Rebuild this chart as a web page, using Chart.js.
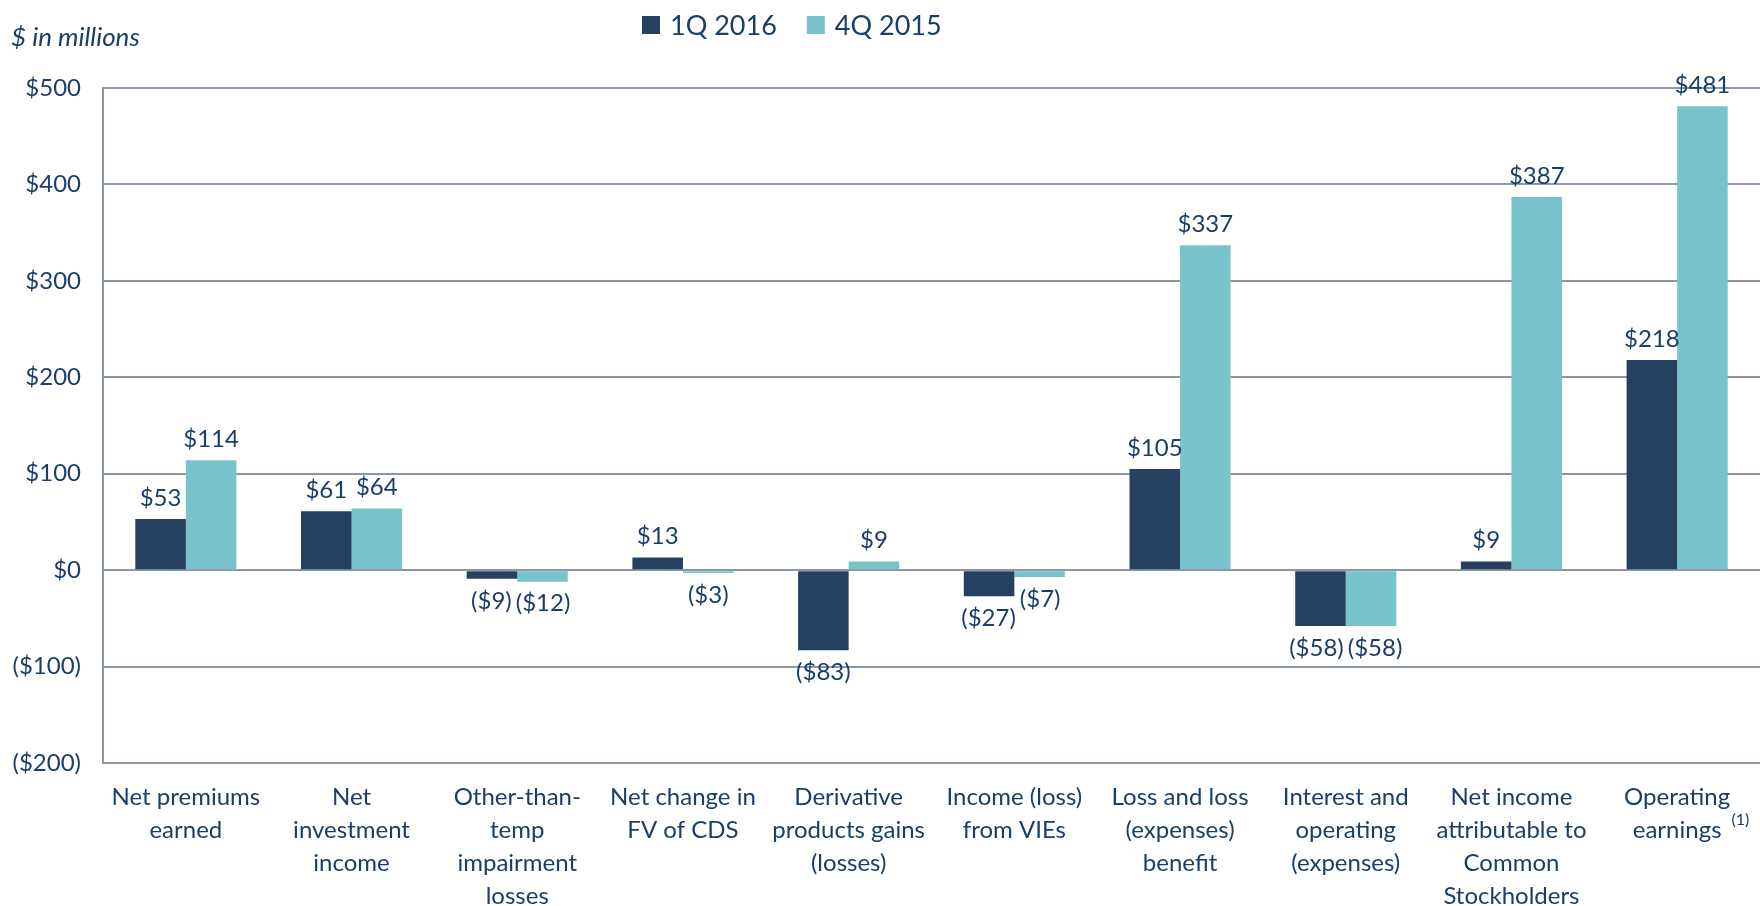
<!DOCTYPE html>
<html>
<head>
<meta charset="utf-8">
<script src="https://cdn.jsdelivr.net/npm/chart.js@4/dist/chart.umd.min.js"></script>
<style>
html,body{margin:0;padding:0;background:#ffffff;}
#wrap{width:1760px;height:906px;position:relative;}
</style>
</head>
<body>
<div id="wrap"><canvas id="c"></canvas></div>
<script>
// ---- data ----
const categories = [
  ["Net premiums","earned"],
  ["Net","investment","income"],
  ["Other-than-","temp","impairment","losses"],
  ["Net change in","FV of CDS"],
  ["Derivative","products gains","(losses)"],
  ["Income (loss)","from VIEs"],
  ["Loss and loss","(expenses)","benefit"],
  ["Interest and","operating","(expenses)"],
  ["Net income","attributable to","Common","Stockholders"],
  ["Operating","earnings"]
];
const seriesNames = ["1Q 2016", "4Q 2015"];
const series1Q2016 = [53, 61, -9, 13, -83, -27, 105, -58, 9, 218];
const series4Q2015 = [114, 64, -12, -3, 9, -7, 337, -58, 387, 481];
const yMin = -200, yMax = 500, yStep = 100;
const unitNote = "$ in millions";
const footnoteMark = "(1)";
const footnoteCategory = 9;

// ---- style ----
const TEXT = "#1a3e6b";
const DARK = "#264061";
const LIGHT = "#78c3cc";
const GRID = "#8c96a6";
const FONT = "Lato, 'Open Sans', sans-serif";

function fmt(v){ return v < 0 ? "($" + Math.abs(v) + ")" : "$" + v; }

const valueLabels = {
  id: "valueLabels",
  afterDatasetsDraw(chart){
    const ctx = chart.ctx;
    ctx.save();
    ctx.font = "24px " + FONT;
    ctx.fillStyle = TEXT;
    ctx.textAlign = "center";
    ctx.textBaseline = "middle";
    const n = chart.data.labels.length;
    for (let j = 0; j < n; j++) {
      const items = chart.data.datasets.map((ds, i) => {
        const bar = chart.getDatasetMeta(i).data[j];
        const v = ds.data[j];
        const text = fmt(v);
        return { text, v, x: bar.x, y: v >= 0 ? bar.y - 21 : bar.y + 22, w: ctx.measureText(text).width };
      });
      // keep neighbouring labels of one category from overlapping
      if (items.length === 2) {
        const a = items[0], b = items[1];
        if (Math.abs(a.y - b.y) < 26) {
          const overlap = (a.w / 2 + b.w / 2 + 4) - (b.x - a.x);
          if (overlap > 0) { a.x -= overlap / 2; b.x += overlap / 2; }
        }
      }
      items.forEach(it => ctx.fillText(it.text, it.x, it.y));
    }
    ctx.restore();
  }
};

const extras = {
  id: "extras",
  afterDraw(chart){
    const ctx = chart.ctx;
    ctx.save();
    // unit note
    ctx.font = "italic 26px " + FONT;
    ctx.fillStyle = TEXT;
    ctx.textAlign = "left";
    ctx.textBaseline = "middle";
    ctx.fillText(unitNote, 11, 38);
    // legend
    ctx.font = "27px " + FONT;
    let x = 642;
    chart.data.datasets.forEach(ds => {
      ctx.fillStyle = ds.backgroundColor;
      ctx.fillRect(x, 16, 18, 18);
      ctx.fillStyle = TEXT;
      ctx.fillText(ds.label, x + 28, 26);
      x += 28 + ctx.measureText(ds.label).width + 30;
    });
    // footnote mark on last category label
    const xs = chart.scales.x;
    ctx.font = "24px " + FONT;
    const lines = categories[footnoteCategory];
    const w = ctx.measureText(lines[lines.length - 1]).width;
    const cx = xs.getPixelForTick(footnoteCategory);
    ctx.font = "16px " + FONT;
    ctx.textAlign = "left";
    ctx.fillText(footnoteMark, cx + w / 2 + 10, xs.top + 18 + 33 * 1.5 - 11);
    ctx.restore();
  }
};

new Chart(document.getElementById("c"), {
  type: "bar",
  data: {
    labels: categories,
    datasets: [
      { label: seriesNames[0], data: series1Q2016, backgroundColor: DARK, borderWidth: 0 },
      { label: seriesNames[1], data: series4Q2015, backgroundColor: LIGHT, borderWidth: 0 }
    ]
  },
  options: {
    responsive: true,
    maintainAspectRatio: false,
    devicePixelRatio: 1,
    animation: false,
    layout: { padding: { top: 88, left: 0, right: 0, bottom: 0 } },
    categoryPercentage: 0.61,
    barPercentage: 1.0,
    plugins: {
      legend: { display: false },
      tooltip: { enabled: false }
    },
    scales: {
      x: {
        grid: { display: false, drawTicks: false },
        border: { display: false },
        ticks: {
          color: TEXT,
          font: { family: FONT, size: 24, lineHeight: 1.375 },
          padding: 18,
          maxRotation: 0,
          autoSkip: false
        },
        afterFit(scale){ scale.height = 143; }
      },
      y: {
        min: yMin, max: yMax,
        grid: { color: GRID, lineWidth: 2, drawTicks: false },
        border: { display: true, color: GRID, width: 2 },
        ticks: {
          stepSize: yStep,
          color: TEXT,
          font: { family: FONT, size: 24 },
          padding: 22,
          callback: v => fmt(v)
        },
        afterFit(scale){ scale.width = 103; }
      }
    }
  },
  plugins: [valueLabels, extras]
});
</script>
</body>
</html>
